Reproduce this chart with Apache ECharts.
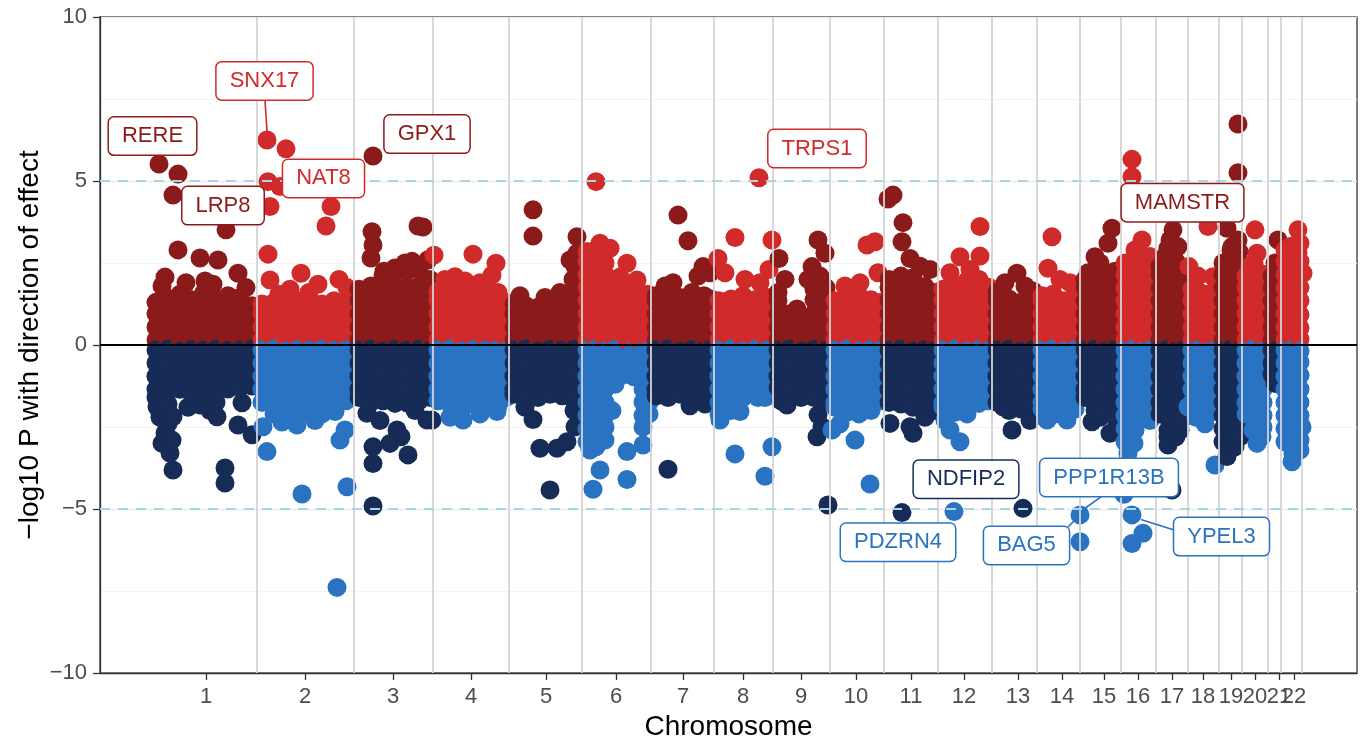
<!DOCTYPE html>
<html><head><meta charset="utf-8">
<script src="https://cdn.jsdelivr.net/npm/echarts@6/dist/echarts.min.js"></script>
<style>html,body{margin:0;padding:0;background:#fff}#c{width:1362px;height:739px}</style>
</head><body><div id="c"></div>
<script>
// ---- axes / layout data ----
const chromosomes = ['1','2','3','4','5','6','7','8','9','10','11','12','13','14','15','16','17','18','19','20','21','22'];
const chromLength = [107,97,79,76,73,69,63,59,57,54,54,54,45,43,41,35,32,31,23,26,13,21];
const genomeOffset = 50;
const tickPositions = [106,205,293,371,446,516,583,643,701,756,811,864,918,962,1004,1038,1072,1103,1131,1155,1179,1194];
const yTicks = [-10,-5,0,5,10];
const threshold = 5;

// ---- points: [position within chromosome, value, value, ...] ----
const chr1Up = [[6,.15,.55,.95,1.3],[18,.12,.58,.98,1.42],[30,.18,.52,.92,1.35,1.55],[42,.14,.57,.96,1.38],[54,.16,.54,.94,1.36,1.6],[66,.13,.56,.97,1.4],[78,.17,.53,.93,1.34,1.5],[90,.15,.55,.95,1.45],[102,.12,.5,.9,1.2],[9,5.52],[28,5.21],[23,4.57],[76,3.51],[28,2.9],[50,2.65],[68,2.59],[88,2.19],[15,2.07],[55,1.95],[36,1.9],[96,1.75],[12,1.8],[63,1.85]];
const chr1Down = [[6,-.15,-.55,-.95,-1.35,-1.6],[18,-.12,-.58,-.98,-1.4,-1.8],[30,-.18,-.52,-.92,-1.35],[42,-.14,-.57,-.96,-1.38,-1.5],[54,-.16,-.54,-.94,-1.36,-1.7],[66,-.13,-.56,-.97,-1.4,-1.75],[78,-.17,-.53,-.93,-1.34],[90,-.15,-.55,-.95,-1.3],[102,-.12,-.5,-.9,-1.25],[7,-1.88],[23,-2.19],[50,-1.83],[67,-2.19],[92,-1.76],[88,-2.44],[102,-2.74],[15,-2.68],[20,-3.29],[23,-3.81],[75,-3.75],[75,-4.21],[12,-3.0],[18,-2.4],[60,-2.0],[38,-1.9],[10,-2.2],[22,-2.9]];
const chr2Up = [[5,.15,.55,.95,1.25],[17,.12,.58,.98,1.3],[29,.18,.52,.92,1.2],[41,.14,.57,.96,1.35],[53,.16,.54,.94,1.3],[65,.13,.56,.97,1.25],[77,.17,.53,.93,1.35],[89,.15,.55,.95,1.3],[10,6.25],[29,5.98],[11,4.98],[23,4.83],[13,4.22],[74,4.22],[69,3.63],[11,2.77],[13,1.98],[44,2.19],[82,2.0],[61,1.85],[33,1.7],[90,1.75],[52,1.6],[22,1.55]];
const chr2Down = [[5,-.15,-.55,-.95,-1.35,-1.75],[17,-.12,-.58,-.98,-1.4,-1.8,-2.1],[29,-.18,-.52,-.92,-1.35,-1.75,-2.05],[41,-.14,-.57,-.96,-1.38,-1.78,-2.15],[53,-.16,-.54,-.94,-1.36,-1.76,-2.0],[65,-.13,-.56,-.97,-1.4,-1.8,-2.1],[77,-.17,-.53,-.93,-1.34,-1.74,-1.95],[89,-.15,-.55,-.95,-1.35,-1.7],[10,-3.25],[6,-2.49],[40,-2.44],[45,-4.54],[90,-4.32],[80,-7.39],[83,-2.9],[88,-2.59],[78,-2.03],[25,-2.35],[58,-2.3]];
const chr3Up = [[5,.15,.55,.95,1.35,1.7],[17,.12,.58,.98,1.4,1.8],[29,.18,.52,.92,1.35,1.75,2.1],[41,.14,.57,.96,1.38,1.78,2.2],[53,.16,.54,.94,1.36,1.76,2.25],[65,.13,.56,.97,1.4,1.8,2.3],[76,.17,.53,.93,1.34,1.74,2.0],[19,5.76],[18,3.45],[19,3.05],[17,2.65],[64,3.63],[69,3.6],[51,2.5],[41,2.35],[74,2.6],[30,2.25],[58,2.55]];
const chr3Down = [[5,-.15,-.55,-.95,-1.35,-1.6],[17,-.12,-.58,-.98,-1.4,-1.75],[29,-.18,-.52,-.92,-1.35,-1.7],[41,-.14,-.57,-.96,-1.38,-1.78],[53,-.16,-.54,-.94,-1.36,-1.76],[65,-.13,-.56,-.97,-1.4,-1.7],[76,-.17,-.53,-.93,-1.34,-1.6],[19,-4.91],[19,-3.61],[19,-3.1],[43,-2.59],[54,-3.35],[36,-3.0],[13,-2.08],[73,-2.29],[78,-2.29],[26,-2.3],[61,-2.0],[47,-2.8]];
const chr4Up = [[5,.15,.55,.95,1.35,1.65],[17,.12,.58,.98,1.4,1.7],[29,.18,.52,.92,1.35,1.6],[41,.14,.57,.96,1.38,1.75],[53,.16,.54,.94,1.36,1.65],[65,.13,.56,.97,1.4,1.6],[73,.15,.55,.95,1.3],[1,2.74],[40,2.77],[63,2.49],[22,2.08],[59,2.13],[32,1.95],[12,2.0],[47,1.9]];
const chr4Down = [[5,-.15,-.55,-.95,-1.35,-1.7],[17,-.12,-.58,-.98,-1.4,-1.8],[29,-.18,-.52,-.92,-1.35,-1.75,-1.95],[41,-.14,-.57,-.96,-1.38,-1.78],[53,-.16,-.54,-.94,-1.36,-1.76,-1.9],[65,-.13,-.56,-.97,-1.4,-1.8,-1.85],[73,-.17,-.53,-.93,-1.34,-1.6],[30,-2.29],[64,-2.03],[17,-2.2],[47,-2.1]];
const chr5Up = [[5,.15,.55,.95,1.25],[17,.12,.58,.98,1.2],[29,.18,.52,.92,1.15],[41,.14,.57,.96,1.2],[53,.16,.54,.94,1.25],[65,.13,.56,.97,1.35,1.7],[24,4.12],[24,3.32],[68,3.3],[61,2.59],[66,2.4],[64,2.0],[68,2.8],[51,1.6],[11,1.5],[36,1.45],[70,1.9]];
const chr5Down = [[5,-.15,-.55,-.95,-1.35,-1.5],[17,-.12,-.58,-.98,-1.4,-1.55],[29,-.18,-.52,-.92,-1.35,-1.6],[41,-.14,-.57,-.96,-1.38,-1.5],[53,-.16,-.54,-.94,-1.36,-1.55],[65,-.13,-.56,-.97,-1.4,-1.7,-2.0],[24,-2.27],[31,-3.15],[48,-3.15],[58,-2.95],[66,-2.49],[41,-4.42],[69,-2.0],[16,-1.9]];
const chr6Up = [[5,.15,.55,.95,1.35,1.75,2.15,2.55,2.85],[14,.12,.58,.98,1.4,1.8,2.2,2.6,2.9],[23,.18,.52,.92,1.35,1.75,2.15,2.5],[33,.14,.57,.96,1.38,1.7],[45,.16,.54,.94,1.36,1.75],[57,.13,.56,.97,1.4,1.6],[66,.17,.53,.93,1.34,1.55],[14,4.98],[18,3.1],[28,2.95],[45,2.49],[38,2.07],[55,1.98],[8,2.8]];
const chr6Down = [[5,-.15,-.55,-.95,-1.35,-1.75,-2.15,-2.55,-2.95],[14,-.12,-.58,-.98,-1.4,-1.8,-2.2,-2.6,-3.1],[23,-.18,-.52,-.92,-1.35,-1.75,-2.15,-2.5,-2.9],[33,-.14,-.57,-.96,-1.2],[43,-.16,-.54,-.9],[52,-.13,-.56,-.97],[61,-.17,-.53,-.93,-1.34,-1.74,-2.15,-2.5],[67,-.15,-.55,-.95,-1.35,-1.75,-2.1],[18,-3.81],[11,-4.4],[45,-3.25],[45,-4.1],[61,-3.05],[21,-2.49],[30,-2.0],[8,-3.2]];
const chr7Up = [[5,.15,.55,.95,1.35,1.5],[17,.12,.58,.98,1.4,1.55],[29,.18,.52,.92,1.35,1.45],[41,.14,.57,.96,1.38,1.6],[53,.16,.54,.94,1.36,1.5],[60,.13,.56,.97,1.4],[27,3.96],[37,3.18],[52,2.39],[59,2.2],[47,2.1],[14,1.8],[22,1.9]];
const chr7Down = [[5,-.15,-.55,-.95,-1.35,-1.55],[17,-.12,-.58,-.98,-1.4,-1.6],[29,-.18,-.52,-.92,-1.35,-1.5],[41,-.14,-.57,-.96,-1.38,-1.55],[53,-.16,-.54,-.94,-1.36,-1.5],[60,-.13,-.56,-.97,-1.4],[17,-3.79],[39,-1.85],[54,-1.8]];
const chr8Up = [[5,.15,.55,.95,1.35],[17,.12,.58,.98,1.4],[29,.18,.52,.92,1.35,1.5],[41,.14,.57,.96,1.38],[53,.16,.54,.94,1.36,1.45],[45,5.1],[21,3.28],[4,2.64],[58,3.2],[11,2.2],[31,2.0],[46,1.9],[55,2.3]];
const chr8Down = [[5,-.15,-.55,-.95,-1.35,-1.75,-2.1],[17,-.12,-.58,-.98,-1.4,-1.8,-2.0],[29,-.18,-.52,-.92,-1.35,-1.6],[41,-.14,-.57,-.96,-1.2],[53,-.16,-.54,-.94,-1.3],[21,-3.32],[26,-2.03],[6,-2.29],[51,-4.0],[58,-3.1],[44,-1.6],[51,-1.6]];
const chr9Up = [[5,.15,.55,.95,1.35,1.6],[17,.12,.58,.95],[29,.18,.52,.8],[41,.14,.57,.96,1.38,1.7],[53,.16,.54,.94,1.36,1.75],[6,2.64],[45,3.2],[52,2.8],[39,2.39],[35,2.0],[47,2.1],[12,2.0],[24,1.1]];
const chr9Down = [[5,-.15,-.55,-.95,-1.3],[17,-.12,-.58,-.98,-1.35],[29,-.18,-.52,-.92,-1.3],[41,-.14,-.57,-.96,-1.38,-1.6],[53,-.16,-.54,-.94,-1.36,-1.7],[14,-1.83],[45,-2.13],[44,-2.8],[55,-4.88],[49,-2.49],[28,-1.6],[8,-1.7]];
const chr10Up = [[5,.15,.55,.95,1.35],[17,.12,.58,.98,1.4],[29,.18,.52,.92,1.35,1.5],[41,.14,.57,.96,1.38],[51,.16,.54,.94,1.3],[37,3.05],[45,3.15],[30,1.9],[15,1.8],[48,2.2]];
const chr10Down = [[5,-.15,-.55,-.95,-1.35,-1.75,-1.9],[17,-.12,-.58,-.98,-1.4,-1.8,-2.05],[29,-.18,-.52,-.92,-1.35,-1.75,-2.1],[41,-.14,-.57,-.96,-1.38,-1.78,-2.0],[51,-.16,-.54,-.94,-1.36,-1.7],[2,-2.59],[25,-2.9],[40,-4.24],[10,-2.4]];
const chr11Up = [[5,.15,.55,.95,1.35,1.75,2.0],[17,.12,.58,.98,1.4,1.8,2.1],[29,.18,.52,.92,1.35,1.75,2.05],[41,.14,.57,.96,1.38,1.78],[51,.16,.54,.94,1.36,1.6],[9,4.57],[4,4.45],[19,3.73],[18,3.15],[26,2.64],[46,2.3],[36,2.4]];
const chr11Down = [[5,-.15,-.55,-.95,-1.35,-1.75],[17,-.12,-.58,-.98,-1.4,-1.8],[29,-.18,-.52,-.92,-1.35,-1.75,-1.9],[41,-.14,-.57,-.96,-1.38,-1.78],[51,-.16,-.54,-.94,-1.36,-1.6],[6,-2.39],[29,-2.69],[26,-2.49],[18,-5.11],[41,-2.2],[51,-2.0]];
const chr12Up = [[5,.15,.55,.95,1.35,1.7],[17,.12,.58,.98,1.4,1.8],[29,.18,.52,.92,1.35,1.75,1.95],[41,.14,.57,.96,1.38,1.78,2.0],[51,.16,.54,.94,1.36,1.76],[42,3.61],[42,2.71],[22,2.69],[32,2.3],[12,2.2]];
const chr12Down = [[5,-.15,-.55,-.95,-1.35,-1.75,-1.9],[17,-.12,-.58,-.98,-1.4,-1.8,-2.05],[29,-.18,-.52,-.92,-1.35,-1.75,-2.1],[41,-.14,-.57,-.96,-1.38,-1.78],[51,-.16,-.54,-.94,-1.36,-1.7],[22,-2.95],[12,-2.59],[16,-5.08],[7,-2.3]];
const chr13Up = [[5,.15,.55,.95,1.35,1.6],[17,.12,.58,.98,1.4],[29,.18,.52,.92,1.3],[41,.14,.57,.96,1.38,1.65],[25,2.19],[13,1.9],[33,1.8]];
const chr13Down = [[5,-.15,-.55,-.95,-1.35,-1.75],[17,-.12,-.58,-.98,-1.4,-1.8,-2.0],[29,-.18,-.52,-.92,-1.35,-1.75,-1.95],[41,-.14,-.57,-.96,-1.38,-1.78],[20,-2.59],[11,-1.88],[31,-4.98],[38,-2.3]];
const chr14Up = [[5,.15,.55,.95,1.35,1.5],[16,.12,.58,.98,1.4,1.55],[27,.18,.52,.92,1.35],[38,.14,.57,.96,1.38,1.5],[15,3.3],[11,2.34],[33,1.9],[23,2.0]];
const chr14Down = [[5,-.15,-.55,-.95,-1.35,-1.75,-1.95],[16,-.12,-.58,-.98,-1.4,-1.8,-2.0],[27,-.18,-.52,-.92,-1.35,-1.75],[38,-.14,-.57,-.96,-1.38,-1.78,-1.95],[10,-2.29],[30,-2.29],[43,-5.18],[43,-6.0],[18,-2.1]];
const chr15Up = [[5,.15,.55,.95,1.35,1.75,2.0],[15,.12,.58,.98,1.4,1.8,2.15],[25,.18,.52,.92,1.35,1.75,2.2],[35,.14,.57,.96,1.38,1.78,2.25],[32,3.56],[28,3.1],[15,2.69],[20,2.5],[8,2.2]];
const chr15Down = [[5,-.15,-.55,-.95,-1.35,-1.6],[15,-.12,-.58,-.98,-1.4,-1.8,-2.0],[25,-.18,-.52,-.92,-1.35,-1.75,-2.05],[35,-.14,-.57,-.96,-1.38,-1.78,-2.1],[12,-2.34],[30,-2.69],[20,-2.2],[37,-2.4]];
const chr16Up = [[4,.15,.55,.95,1.35,1.75,2.15,2.5],[13,.12,.58,.98,1.4,1.8,2.2,2.6],[22,.18,.52,.92,1.35,1.75,2.15,2.5],[31,.14,.57,.96,1.38,1.78,2.2,2.4],[11,5.66],[11,5.13],[21,3.2],[14,2.9],[29,2.7]];
const chr16Down = [[4,-.15,-.55,-.95,-1.35,-1.75,-2.15,-2.55,-2.95],[13,-.12,-.58,-.98,-1.4,-1.8,-2.2,-2.6,-3.0],[22,-.18,-.52,-.92,-1.35,-1.75,-2.1],[31,-.14,-.57,-.96,-1.38,-1.78,-2.05],[11,-5.18],[22,-5.74],[11,-6.05],[6,-2.29],[9,-3.0],[7,-3.3],[14,-2.6],[29,-2.3],[3,-4.55]];
const chr17Up = [[4,.15,.55,.95,1.35,1.75,2.15,2.4],[12,.12,.58,.98,1.4,1.8,2.2,2.6,2.95],[20,.18,.52,.92,1.35,1.75,2.15,2.55,3.0],[28,.14,.57,.96,1.38,1.78,2.1],[17,3.51],[14,3.2],[22,3.0],[9,2.7]];
const chr17Down = [[4,-.15,-.55,-.95,-1.35,-1.75,-2.1],[12,-.12,-.58,-.98,-1.4,-1.8,-2.2,-2.6,-2.8],[20,-.18,-.52,-.92,-1.35,-1.75,-2.15,-2.55,-2.8],[28,-.14,-.57,-.96,-1.38,-1.78,-2.2],[12,-3.05],[16,-4.42],[24,-2.6]];
const chr18Up = [[4,.15,.55,.95,1.35,1.7],[12,.12,.58,.98,1.4,1.6],[20,.18,.52,.92,1.35,1.55],[28,.14,.57,.96,1.38,1.7],[20,3.61],[25,2.08],[10,2.1],[1,2.39]];
const chr18Down = [[4,-.15,-.55,-.95,-1.35,-1.75],[12,-.12,-.58,-.98,-1.4,-1.8,-2.0],[20,-.18,-.52,-.92,-1.35,-1.75,-2.1],[28,-.14,-.57,-.96,-1.38,-1.78],[27,-3.66],[17,-2.4],[0,-1.88],[8,-2.2]];
const chr19Up = [[4,.15,.55,.95,1.35,1.75,2.15,2.5],[12,.12,.58,.98,1.4,1.8,2.2,2.6,2.9],[20,.18,.52,.92,1.35,1.75,2.15,2.55,2.85],[19,6.74],[19,5.25],[8,3.56],[19,3.2],[18,2.39],[13,3.0]];
const chr19Down = [[4,-.15,-.55,-.95,-1.35,-1.75,-2.15,-2.55,-2.95],[12,-.12,-.58,-.98,-1.4,-1.8,-2.2,-2.6,-3.0],[20,-.18,-.52,-.92,-1.35,-1.75,-2.15,-2.5],[8,-3.4],[16,-3.1],[21,-2.8]];
const chr20Up = [[4,.15,.55,.95,1.35,1.75,2.1],[12,.12,.58,.98,1.4,1.8,2.2,2.5],[21,.18,.52,.92,1.35,1.75,2.15],[13,3.51],[15,2.8],[18,2.19],[8,2.4]];
const chr20Down = [[4,-.15,-.55,-.95,-1.35,-1.75,-2.1],[12,-.12,-.58,-.98,-1.4,-1.8,-2.2,-2.6],[21,-.18,-.52,-.92,-1.35,-1.75,-2.15,-2.5],[18,-2.19],[15,-3.0],[11,-2.59],[20,-2.8]];
const chr21Up = [[4,.15,.55,.95,1.35,1.75,2.1],[10,.12,.58,.98,1.4,1.8,2.2],[10,3.2],[7,2.5]];
const chr21Down = [[4,-.15,-.55,-.9],[10,-.12,-.58,-.98],[5,-.76],[7,-1.17]];
const chr22Up = [[4,.15,.55,.95,1.35,1.75,2.15,2.55,2.9],[12,.12,.58,.98,1.4,1.8,2.2,2.6,3.0],[19,.18,.52,.92,1.35,1.75,2.15,2.55,3.1],[17,3.51],[17,2.8],[22,2.19],[9,3.0]];
const chr22Down = [[4,-.15,-.55,-.95,-1.35,-1.75,-2.15,-2.55,-2.95],[12,-.12,-.58,-.98,-1.4,-1.8,-2.2,-2.6,-3.0,-3.3],[19,-.18,-.52,-.92,-1.35,-1.75,-2.15,-2.55,-2.9],[11,-3.56],[19,-3.2],[15,-3.0],[21,-2.5]];

// ---- gene labels ----
const geneNames = ['RERE','SNX17','LRP8','NAT8','GPX1','TRPS1','MAMSTR','NDFIP2','PDZRN4','BAG5','PPP1R13B','YPEL3'];
const geneLabelX = [52.5,164.5,123,223.5,327,717,1082.5,866,798,926.5,1009,1121.5];
const geneLabelY = [6.37,8.05,4.25,5.08,6.43,5.99,4.34,-4.09,-6.01,-6.11,-4.04,-5.84];
const geneColorKey = ['oddUp','evenUp','oddUp','evenUp','oddUp','evenUp','oddUp','oddDown','evenDown','evenDown','evenDown','evenDown'];
// leader segments: [from x, from y, to x, to y, colour key]
const leaderSegments = [[165,7.47,167,6.52,'evenUp'],[1001,-4.63,984,-5.0,'evenDown'],[968,-5.55,976,-5.3,'evenDown'],[1074,-5.64,1041,-5.32,'evenDown']];

const COLORS = {oddUp:'#8B1B1B', evenUp:'#D12A2A', oddDown:'#162C56', evenDown:'#2A72C2'};
const FONT = '"Liberation Sans", Arial, Helvetica, sans-serif';

const upArrays = [chr1Up,chr2Up,chr3Up,chr4Up,chr5Up,chr6Up,chr7Up,chr8Up,chr9Up,chr10Up,chr11Up,chr12Up,chr13Up,chr14Up,chr15Up,chr16Up,chr17Up,chr18Up,chr19Up,chr20Up,chr21Up,chr22Up];
const downArrays = [chr1Down,chr2Down,chr3Down,chr4Down,chr5Down,chr6Down,chr7Down,chr8Down,chr9Down,chr10Down,chr11Down,chr12Down,chr13Down,chr14Down,chr15Down,chr16Down,chr17Down,chr18Down,chr19Down,chr20Down,chr21Down,chr22Down];

const starts = []; let acc = genomeOffset;
chromLength.forEach(l => { starts.push(acc); acc += l; });
const boundaries = starts.slice(1).concat([acc]);

const pts = [];
for (let i = 0; i < chromosomes.length; i++) {
  const odd = i % 2 === 0;
  [[upArrays[i], odd ? 'oddUp' : 'evenUp'], [downArrays[i], odd ? 'oddDown' : 'evenDown']].forEach(([arr, key]) => {
    arr.forEach(row => {
      for (let k = 1; k < row.length; k++) pts.push({value: [starts[i] + row[0], row[k]], itemStyle: {color: COLORS[key]}});
    });
  });
}
pts.sort((a, b) => a.value[0] - b.value[0]);

const labelData = geneNames.map((n, i) => ({
  name: n, value: [geneLabelX[i], geneLabelY[i]],
  label: {color: COLORS[geneColorKey[i]], borderColor: COLORS[geneColorKey[i]]}
}));
const leaderData = leaderSegments.map(s => ({coords: [[s[0], s[1]], [s[2], s[3]]], lineStyle: {color: COLORS[s[4]]}}));

// odd-numbered and even-numbered chromosome labels on two overlaid axes so that none is dropped
const oddTicks = tickPositions.filter((_, i) => i % 2 === 0);
const evenTicks = tickPositions.filter((_, i) => i % 2 === 1);
const tickLabel = v => chromosomes[tickPositions.indexOf(v)];
const labelStyle = {show: true, interval: 0, hideOverlap: false, showMinLabel: true, showMaxLabel: true,
  margin: 13, fontSize: 22, color: '#4D4D4D', fontFamily: FONT, formatter: tickLabel};

const chart = echarts.init(document.getElementById('c'), null, {renderer: 'canvas'});
chart.setOption({
  animation: false,
  backgroundColor: '#fff',
  grid: {left: 100, right: 5, top: 17, bottom: 66, show: true, borderColor: '#333', borderWidth: 1.3,
    backgroundColor: 'transparent', containLabel: false, outerBoundsMode: 'none'},
  xAxis: [{
    type: 'value', min: 0, max: 1257, position: 'bottom',
    name: 'Chromosome', nameLocation: 'middle', nameGap: 38,
    nameTextStyle: {fontSize: 28, color: '#000', fontFamily: FONT},
    axisLine: {show: true, onZero: false, lineStyle: {color: '#333', width: 1.3}},
    axisTick: {show: true, customValues: tickPositions, length: 7, lineStyle: {color: '#333', width: 1.3}},
    axisLabel: Object.assign({customValues: oddTicks}, labelStyle),
    splitLine: {show: false}
  }, {
    type: 'value', min: 0, max: 1257, position: 'bottom', offset: 0,
    axisLine: {show: false, onZero: false},
    axisTick: {show: false},
    axisLabel: Object.assign({customValues: evenTicks}, labelStyle),
    splitLine: {show: false}
  }],
  yAxis: {
    type: 'value', min: -10, max: 10, interval: 5,
    name: '\u2212log10 P with direction of effect', nameLocation: 'middle', nameGap: 56, nameMoveOverlap: false,
    nameTextStyle: {fontSize: 28, color: '#000', fontFamily: FONT},
    axisLine: {show: true, lineStyle: {color: '#333', width: 1.3}},
    axisTick: {show: true, length: 7, lineStyle: {color: '#333', width: 1.3}},
    axisLabel: {margin: 13, fontSize: 22, color: '#4D4D4D', fontFamily: FONT,
      formatter: v => (v < 0 ? '\u2212' + Math.abs(v) : String(v))},
    splitLine: {show: true, lineStyle: {color: '#EBEBEB', width: 1.3}},
    minorTick: {show: false, splitNumber: 2},
    minorSplitLine: {show: true, lineStyle: {color: '#F3F3F3', width: 1}}
  },
  series: [
    {
      type: 'scatter', name: 'snps', data: pts, symbol: 'circle', symbolSize: 19,
      z: 2, progressive: 0, large: false, silent: true,
      itemStyle: {opacity: 1}
    },
    {
      type: 'scatter', name: 'chromBounds', data: [], z: 3, silent: true,
      markLine: {silent: true, symbol: ['none', 'none'], label: {show: false}, animation: false,
        lineStyle: {color: 'rgba(212,212,212,0.9)', width: 2, type: 'solid'},
        data: boundaries.map(b => ({xAxis: b}))}
    },
    {
      type: 'scatter', name: 'refLines', data: [], z: 4, silent: true,
      markLine: {silent: true, symbol: ['none', 'none'], label: {show: false}, animation: false,
        data: [
          {yAxis: threshold, lineStyle: {color: '#A9D6E5', width: 2.2, type: [10, 8]}},
          {yAxis: -threshold, lineStyle: {color: '#A9D6E5', width: 2.2, type: [10, 8]}},
          {yAxis: 0, lineStyle: {color: '#000', width: 2, type: 'solid'}}
        ]}
    },
    {
      type: 'lines', coordinateSystem: 'cartesian2d', z: 5, silent: true,
      lineStyle: {width: 1.6, opacity: 1}, data: leaderData
    },
    {
      type: 'scatter', name: 'genes', data: labelData, z: 6, silent: true,
      symbol: 'circle', symbolSize: 0, itemStyle: {color: '#fff', opacity: 1},
      label: {show: true, position: 'inside', formatter: '{b}', fontSize: 22, fontFamily: FONT, opacity: 1,
        backgroundColor: '#fff', borderWidth: 1.5, borderRadius: 5, padding: [8, 13, 7, 13]}
    }
  ]
});
</script>
</body></html>
